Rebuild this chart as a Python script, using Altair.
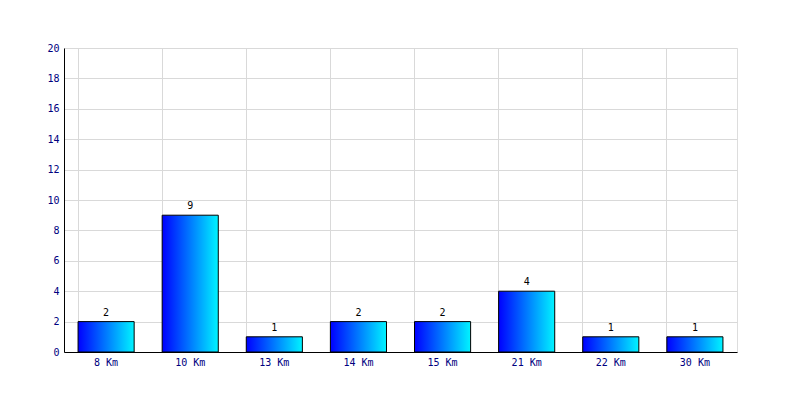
import altair as alt
import pandas as pd

categories = ["8 Km", "10 Km", "13 Km", "14 Km", "15 Km", "21 Km", "22 Km", "30 Km"]
counts = [2, 9, 1, 2, 2, 4, 1, 1]
y_ticks = [0, 2, 4, 6, 8, 10, 12, 14, 16, 18, 20]

df = pd.DataFrame({"cat": categories, "n": counts})

FONT = "DejaVu Sans Mono"

x_enc = alt.X(
    "cat:N", sort=categories, title=None,
    scale=alt.Scale(paddingInner=0.333, paddingOuter=0.167),
    axis=alt.Axis(labelAngle=0, ticks=False, grid=True, bandPosition=0,
                  gridColor="#d9d9d9", domainColor="#000000",
                  labelColor="#000080", labelFont=FONT, labelFontSize=10,
                  labelPadding=5, labelOverlap=False),
)
y_enc = alt.Y(
    "n:Q", title=None,
    scale=alt.Scale(domain=[0, 20], nice=False),
    axis=alt.Axis(values=y_ticks, tickCount=20, ticks=False, grid=True,
                  gridColor="#d9d9d9",
                  domainColor="#000000", labelColor="#000080", labelFont=FONT,
                  labelFontSize=10, labelPadding=5, labelOverlap=False,
                  labelFlush=False),
)

bars = alt.Chart(df).mark_bar(
    stroke="#000000", strokeWidth=1,
    color=alt.Gradient(
        gradient="linear", x1=0, x2=1, y1=0, y2=0,
        stops=[alt.GradientStop(color="#0000ff", offset=0),
               alt.GradientStop(color="#00f4ff", offset=1)],
    ),
).encode(x=x_enc, y=y_enc)

labels = alt.Chart(df).mark_text(
    baseline="bottom", dy=-4, font=FONT, fontSize=10, color="#000000"
).encode(x=x_enc, y=y_enc, text="n:Q")

chart = alt.layer(bars, labels).properties(
    width=673, height=304,
    autosize=alt.AutoSizeParams(type="none"),
    padding={"left": 56, "top": 40, "right": 55, "bottom": 40},
).configure_view(stroke="#d9d9d9").configure(background="#ffffff")

chart.save("out.html", embed_options={"renderer": "svg", "actions": False})
